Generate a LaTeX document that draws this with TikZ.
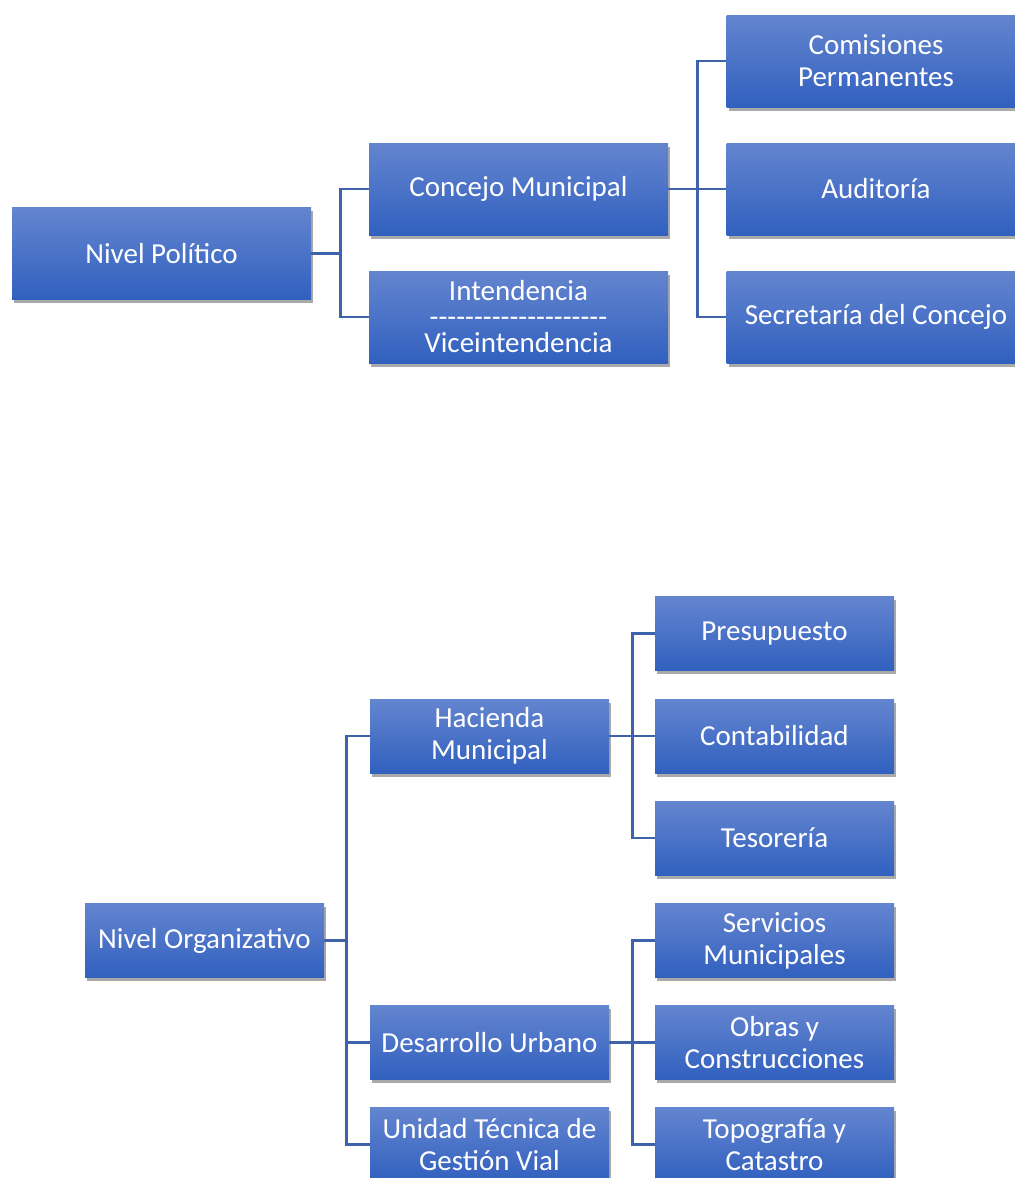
\documentclass[tikz,border=0pt]{standalone}
\usepackage{fontspec}
\setmainfont{Carlito}
\usetikzlibrary{shadows}

\definecolor{boxtop}{RGB}{100,133,207}
\definecolor{boxbot}{RGB}{49,96,191}
\definecolor{linkblue}{RGB}{62,99,170}

\newcommand{\dashrow}{-{}-{}-{}-{}-{}-{}-{}-{}-{}-{}-{}-{}-{}-{}-{}-{}-{}-{}-{}-}

\begin{document}
\begin{tikzpicture}[x=0.5pt, y=-0.5pt,
    unit/.style={rectangle, top color=boxtop, bottom color=boxbot, text=white,
        align=center, inner sep=2pt,
        font=\fontsize{14.5}{16}\selectfont,
        drop shadow={shadow xshift=1.2pt, shadow yshift=-1.8pt, opacity=.45, fill=black!75}},
    bigunit/.style={unit, minimum width=149.5pt, minimum height=46pt},
    smallunit/.style={unit, minimum width=119.5pt, minimum height=37pt},
    link/.style={draw=linkblue, line width=1.1pt}]
    \useasboundingbox (0,0) rectangle (1015,1178);

    % Nivel politico
    \node [bigunit] (pol) at (161.5, 253.5) {Nivel Político};
    \node [bigunit] (con) at (518.5, 189) {Concejo Municipal};
    \node [bigunit] (int) at (518.5, 317) {Intendencia\\[-3pt]\dashrow\\[-3pt]Viceintendencia};
    \node [bigunit] (com) at (876, 61) {Comisiones\\Permanentes};
    \node [bigunit] (aud) at (876, 189) {Auditoría};
    \node [bigunit] (sec) at (876, 317) {Secretaría del Concejo};

    \draw [link] (pol.east) -- ++(29,0) coordinate (j1);
    \draw [link] (j1) |- (con.west);
    \draw [link] (j1) |- (int.west);
    \draw [link] (con.east) -- ++(29,0) coordinate (j2);
    \draw [link] (j2) |- (com.west);
    \draw [link] (j2) |- (aud.west);
    \draw [link] (j2) |- (sec.west);

    % Nivel organizativo
    \node [smallunit] (org) at (204.5, 940.5) {Nivel Organizativo};
    \node [smallunit] (hac) at (489.5, 736) {Hacienda\\Municipal};
    \node [smallunit] (des) at (489.5, 1042.5) {Desarrollo Urbano};
    \node [smallunit] (uni) at (489.5, 1144.5) {Unidad Técnica de\\Gestión Vial};
    \node [smallunit] (pre) at (774.5, 633.5) {Presupuesto};
    \node [smallunit] (cnt) at (774.5, 736) {Contabilidad};
    \node [smallunit] (tes) at (774.5, 838) {Tesorería};
    \node [smallunit] (ser) at (774.5, 940.5) {Servicios\\Municipales};
    \node [smallunit] (obr) at (774.5, 1042.5) {Obras y\\Construcciones};
    \node [smallunit] (top) at (774.5, 1144.5) {Topografía y\\Catastro};

    \draw [link] (org.east) -- ++(22,0) coordinate (j3);
    \draw [link] (j3) |- (hac.west);
    \draw [link] (j3) |- (des.west);
    \draw [link] (j3) |- (uni.west);
    \draw [link] (hac.east) -- ++(23,0) coordinate (j4);
    \draw [link] (j4) |- (pre.west);
    \draw [link] (j4) |- (cnt.west);
    \draw [link] (j4) |- (tes.west);
    \draw [link] (des.east) -- ++(23,0) coordinate (j5);
    \draw [link] (j5) |- (ser.west);
    \draw [link] (j5) |- (obr.west);
    \draw [link] (j5) |- (top.west);
\end{tikzpicture}
\end{document}
